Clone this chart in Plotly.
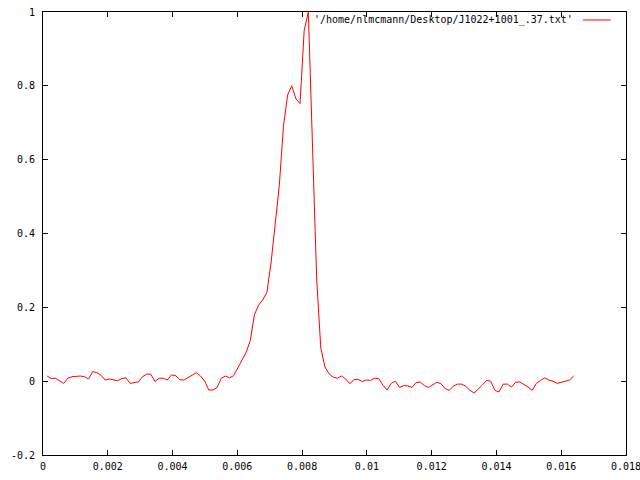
import plotly.graph_objects as go

dt = 0.000128
bins = list(range(1, 129))
values = [
    0.014, 0.007, 0.008, 0.002, -0.006, 0.008, 0.012, 0.013, 0.014, 0.012,
    0.006, 0.026, 0.023, 0.016, 0.003, 0.006, 0.004, 0.001, 0.007, 0.009,
    -0.006, -0.004, -0.002, 0.012, 0.019, 0.019, -0.001, 0.008, 0.008, 0.003,
    0.017, 0.015, 0.004, 0.003, 0.010, 0.017, 0.023, 0.014, 0.000, -0.024,
    -0.024, -0.017, 0.008, 0.014, 0.009, 0.015, 0.036, 0.057, 0.078, 0.110,
    0.180, 0.206, 0.220, 0.240, 0.320, 0.425, 0.530, 0.690, 0.775, 0.800,
    0.765, 0.752, 0.950, 1.000, 0.650, 0.280, 0.090, 0.039, 0.020, 0.011,
    0.008, 0.014, 0.006, -0.007, 0.004, 0.005, -0.001, 0.003, 0.002, 0.008,
    0.007, -0.011, -0.024, -0.006, 0.000, -0.017, -0.012, -0.013, -0.017, -0.004,
    -0.002, -0.012, -0.017, -0.011, -0.003, -0.007, -0.020, -0.025, -0.013, -0.008,
    -0.008, -0.014, -0.025, -0.032, -0.022, -0.010, 0.002, 0.000, -0.025, -0.029,
    -0.008, -0.008, -0.016, -0.003, -0.002, -0.008, -0.016, -0.025, -0.006, 0.002,
    0.009, 0.003, 0.000, -0.006, -0.003, 0.001, 0.003, 0.014,
]
times = [b * dt for b in bins]

xtick_vals = [0, 0.002, 0.004, 0.006, 0.008, 0.01, 0.012, 0.014, 0.016, 0.018]
xtick_text = ["0", "0.002", "0.004", "0.006", "0.008", "0.01", "0.012", "0.014", "0.016", "0.018"]
ytick_vals = [-0.2, 0, 0.2, 0.4, 0.6, 0.8, 1]
ytick_text = ["-0.2", "0", "0.2", "0.4", "0.6", "0.8", "1"]
legend_label = "'/home/nlmcmann/Desktop/J1022+1001_.37.txt'"

font = dict(family="DejaVu Sans Mono", size=10, color="black")

fig = go.Figure()
fig.add_trace(go.Scatter(x=times, y=values, mode="lines",
                         line=dict(color="#ff0000", width=1), showlegend=False))

axis_common = dict(showline=True, linecolor="black", linewidth=1, mirror="ticks",
                   ticks="inside", ticklen=5, tickcolor="black", tickwidth=1,
                   showgrid=False, zeroline=False, tickfont=font, automargin=False,
                   ticklabeloverflow="allow")

fig.update_xaxes(range=[0, 0.018], tickvals=xtick_vals, ticktext=xtick_text,
                 ticklabelstandoff=2, **axis_common)
fig.update_yaxes(range=[-0.2, 1], tickvals=ytick_vals, ticktext=ytick_text,
                 ticklabelstandoff=5, **axis_common)

fig.add_annotation(x=0.912, y=0.982, xref="paper", yref="paper", text=legend_label,
                   showarrow=False, xanchor="right", yanchor="middle", font=font)
fig.add_shape(type="line", xref="paper", yref="paper", x0=0.926, x1=0.974, y0=0.982, y1=0.982,
              line=dict(color="#ff0000", width=1))

fig.update_layout(width=640, height=480, margin=dict(l=43, r=14, t=12, b=25, autoexpand=False),
                  plot_bgcolor="white", paper_bgcolor="white", font=font)

fig.write_html("out.html", config={"displayModeBar": False},
               post_script="document.body.style.margin='0px';document.body.style.overflow='hidden';")
